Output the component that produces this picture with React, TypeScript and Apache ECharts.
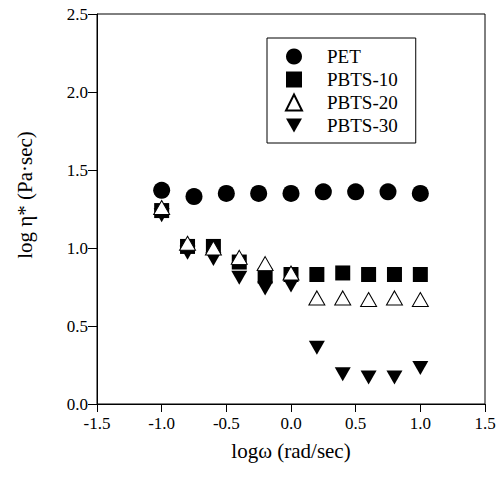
import React, { useEffect, useRef } from "react";
import * as echarts from "echarts";

const petX = [-1.0, -0.75, -0.5, -0.25, 0.0, 0.25, 0.5, 0.75, 1.0];
const petY = [1.37, 1.33, 1.35, 1.35, 1.35, 1.36, 1.36, 1.36, 1.35];

const pbtsX = [-1.0, -0.8, -0.6, -0.4, -0.2, 0.0, 0.2, 0.4, 0.6, 0.8, 1.0];
const pbts10Y = [1.24, 1.01, 1.01, 0.91, 0.82, 0.83, 0.83, 0.84, 0.83, 0.83, 0.83];
const pbts20Y = [1.26, 1.03, 1.0, 0.94, 0.9, 0.84, 0.68, 0.68, 0.67, 0.68, 0.67];
const pbts30Y = [1.21, 0.97, 0.93, 0.81, 0.74, 0.76, 0.36, 0.19, 0.17, 0.17, 0.23];

const seriesNames = ["PET", "PBTS-10", "PBTS-20", "PBTS-30"];
const xTicks = { min: -1.5, max: 1.5, interval: 0.5 };
const yTicks = { min: 0, max: 2.5, interval: 0.5 };

const FONT = "'Liberation Serif', 'Times New Roman', serif";

export default function App() {
  const ref = useRef<HTMLDivElement>(null);
  useEffect(() => {
    if (!ref.current) return;
    const chart = echarts.init(ref.current, null, { renderer: "svg" });
    const zip = (xs: number[], ys: number[]) => xs.map((x, i) => [x, ys[i]]);
    chart.setOption({
      animation: false,
      backgroundColor: "#fff",
      grid: {
        left: 97,
        right: 19,
        top: 14,
        bottom: 77,
        show: true,
        borderColor: "#000",
        borderWidth: 1,
        backgroundColor: "transparent",
      },
      legend: {
        orient: "vertical",
        left: 267,
        top: 38,
        data: seriesNames,
        itemWidth: 16,
        itemHeight: 16,
        itemGap: 0,
        padding: [7, 18, 6, 18],
        borderColor: "#000",
        borderWidth: 1,
        backgroundColor: "#fff",
        textStyle: {
          fontFamily: FONT,
          fontSize: 19,
          color: "#000",
          lineHeight: 23,
          padding: [0, 0, 0, 20],
        },
      },
      xAxis: {
        type: "value",
        min: xTicks.min,
        max: xTicks.max,
        interval: xTicks.interval,
        name: "logω (rad/sec)",
        nameLocation: "middle",
        nameGap: 36,
        nameTextStyle: { fontFamily: FONT, fontSize: 21, color: "#000" },
        axisLine: { onZero: false, lineStyle: { color: "#000", width: 1 } },
        axisTick: { show: true, inside: false, length: 8, lineStyle: { color: "#000" } },
        axisLabel: {
          fontFamily: FONT,
          fontSize: 17,
          color: "#000",
          margin: 11,
          formatter: (v: number) => v.toFixed(1),
        },
        splitLine: { show: false },
      },
      yAxis: {
        type: "value",
        min: yTicks.min,
        max: yTicks.max,
        interval: yTicks.interval,
        axisLine: { show: true, onZero: false, lineStyle: { color: "#000", width: 1 } },
        axisTick: { show: true, inside: false, length: 9, lineStyle: { color: "#000" } },
        axisLabel: {
          fontFamily: FONT,
          fontSize: 17,
          color: "#000",
          margin: 9,
          formatter: (v: number) => v.toFixed(1),
        },
        splitLine: { show: false },
      },
      graphic: [
        {
          type: "text",
          x: 25,
          y: 195,
          rotation: Math.PI / 2,
          style: {
            text: "log η* (Pa·sec)",
            fontFamily: FONT,
            fontSize: 21,
            fill: "#000",
            align: "center",
            verticalAlign: "middle",
          },
        },
      ],
      series: [
        {
          name: "PET",
          type: "scatter",
          symbol: "circle",
          symbolSize: 17,
          itemStyle: { color: "#000", opacity: 1 },
          data: zip(petX, petY),
          z: 2,
        },
        {
          name: "PBTS-10",
          type: "scatter",
          symbol: "rect",
          symbolSize: 15,
          itemStyle: { color: "#000", opacity: 1 },
          data: zip(pbtsX, pbts10Y),
          z: 3,
        },
        {
          name: "PBTS-30",
          type: "scatter",
          symbol: "path://M0,0 L16,0 L8,14 Z",
          symbolSize: [16, 14],
          itemStyle: { color: "#000", opacity: 1 },
          data: zip(pbtsX, pbts30Y),
          z: 4,
        },
        {
          name: "PBTS-20",
          type: "scatter",
          symbol: "triangle",
          symbolSize: [16, 14],
          itemStyle: { color: "#fff", borderColor: "#000", borderWidth: 1, opacity: 1 },
          data: zip(pbtsX, pbts20Y),
          z: 5,
        },
      ],
    });
    return () => chart.dispose();
  }, []);
  return <div ref={ref} style={{ width: 504, height: 481, margin: -8 }} />;
}
